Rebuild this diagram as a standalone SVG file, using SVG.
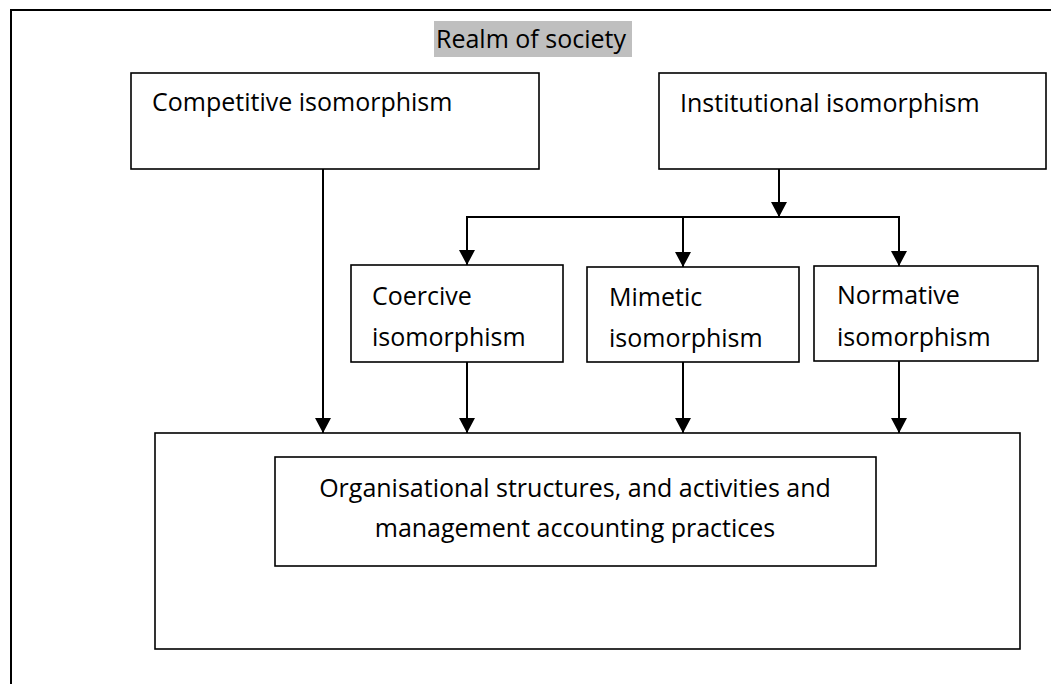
<svg xmlns="http://www.w3.org/2000/svg" width="1051" height="684" viewBox="0 0 1051 684">
<style>
.box{fill:#fff;stroke:#000;stroke-width:1.6}
.t{font-family:"Open Sans","Liberation Sans",sans-serif;font-size:25px;fill:#000}
.c{fill:none;stroke:#000;stroke-width:2}
</style>
<defs>
<marker id="ah" markerUnits="userSpaceOnUse" markerWidth="16" markerHeight="16" refX="15" refY="8" orient="auto" viewBox="0 0 16 16">
<path d="M0,0 L15,8 L0,16 z" fill="#000"/>
</marker>
</defs>
<rect width="1051" height="684" fill="#fff"/>
<g id="frame">
<path d="M11,684 L11,10 L1051,10" fill="none" stroke="#000" stroke-width="2"/>
</g>
<g id="realm">
<rect x="434" y="21" width="198" height="36" fill="#bfbfbf"/>
<text class="t" x="436" y="48">Realm of society</text>
</g>
<g id="competitive">
<rect class="box" x="131" y="73" width="408" height="96"/>
<text class="t" x="152" y="111">Competitive isomorphism</text>
</g>
<g id="institutional">
<rect class="box" x="659" y="73" width="387" height="96"/>
<text class="t" x="680" y="112">Institutional isomorphism</text>
</g>
<g id="coercive">
<rect class="box" x="351" y="265" width="212" height="97"/>
<text class="t" x="372" y="305">Coercive</text>
<text class="t" x="372" y="346">isomorphism</text>
</g>
<g id="mimetic">
<rect class="box" x="587" y="267" width="212" height="95"/>
<text class="t" x="609" y="306">Mimetic</text>
<text class="t" x="609" y="347">isomorphism</text>
</g>
<g id="normative">
<rect class="box" x="814" y="266" width="224" height="95"/>
<text class="t" x="837" y="304">Normative</text>
<text class="t" x="837" y="346">isomorphism</text>
</g>
<g id="outcome">
<rect class="box" x="155" y="433" width="865" height="216"/>
</g>
<g id="practices">
<rect class="box" x="275" y="457" width="601" height="109"/>
<text class="t" x="575" y="497" text-anchor="middle">Organisational structures, and activities and</text>
<text class="t" x="575" y="537" text-anchor="middle">management accounting practices</text>
</g>
<g id="connectors">
<line class="c" x1="779" y1="169" x2="779" y2="217" marker-end="url(#ah)"/>
<line class="c" x1="466" y1="217" x2="900" y2="217"/>
<line class="c" x1="467" y1="217" x2="467" y2="265" marker-end="url(#ah)"/>
<line class="c" x1="683" y1="217" x2="683" y2="267" marker-end="url(#ah)"/>
<line class="c" x1="899" y1="217" x2="899" y2="266" marker-end="url(#ah)"/>
<line class="c" x1="323" y1="169" x2="323" y2="433" marker-end="url(#ah)"/>
<line class="c" x1="467" y1="362" x2="467" y2="433" marker-end="url(#ah)"/>
<line class="c" x1="683" y1="362" x2="683" y2="433" marker-end="url(#ah)"/>
<line class="c" x1="899" y1="361" x2="899" y2="433" marker-end="url(#ah)"/>
</g>
</svg>
